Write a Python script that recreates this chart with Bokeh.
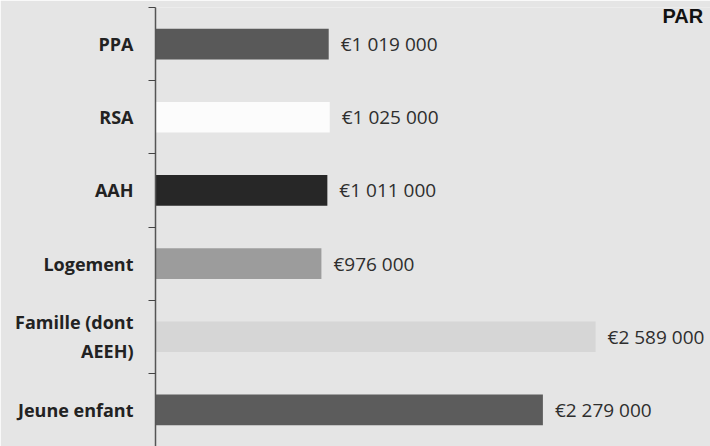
from bokeh.plotting import figure
from bokeh.models import Range1d, FixedTicker, ColumnDataSource, Label
from bokeh.core.properties import value
from bokeh.embed import file_html
from bokeh.resources import INLINE

categories = ["PPA", "RSA", "AAH", "Logement", "Famille (dont\nAEEH)", "Jeune enfant"]
amounts = [1019000, 1025000, 1011000, 976000, 2589000, 2279000]
colors = ["#595959", "#fcfcfc", "#272727", "#9c9c9c", "#d6d6d6", "#5c5c5c"]
title_fragment = "PAR"

labels = ["€" + f"{v:,}".replace(",", " ") for v in amounts]
ypos = [i + 0.5 for i in range(len(categories))]

src = ColumnDataSource(dict(y=ypos, v=amounts, c=colors, lab=labels))

BG = "#e5e5e5"
p = figure(width=710, height=446, output_backend="svg", toolbar_location=None,
           x_range=Range1d(0, 3265000), y_range=Range1d(len(categories), 0),
           min_border_left=155, min_border_right=0, min_border_top=7, min_border_bottom=0,
           background_fill_color=BG, border_fill_color=BG)
p.outline_line_color = None
p.grid.visible = False
p.xaxis.visible = False

p.hbar(y="y", left=0, right="v", height=0.42, fill_color="c", line_color=None, source=src)
p.text(x="v", y="y", text="lab", source=src, x_offset=12, text_align="left",
       text_baseline="middle", text_font=value("Open Sans"), text_font_size="19px",
       text_color="#2e2e2e")

yax = p.yaxis[0]
yax.ticker = FixedTicker(ticks=ypos, minor_ticks=list(range(len(categories) + 1)))
yax.major_label_overrides = {y: c for y, c in zip(ypos, categories)}
yax.major_tick_out = 0
yax.major_tick_in = 0
yax.minor_tick_out = 7
yax.minor_tick_in = 0
yax.minor_tick_line_color = "#444444"
yax.axis_line_color = "#555555"
yax.axis_line_width = 1.5
yax.major_label_standoff = 15
yax.major_label_text_font = "Open Sans"
yax.major_label_text_font_style = "bold"
yax.major_label_text_font_size = "18px"
yax.major_label_text_color = "#222222"

p.add_layout(Label(x=507, y=420, x_units="screen", y_units="screen", text=title_fragment,
                   text_font="Liberation Sans", text_font_style="bold", text_font_size="20px",
                   text_color="#111111", text_baseline="bottom"))

open("out.html", "w").write(file_html(p, INLINE))
